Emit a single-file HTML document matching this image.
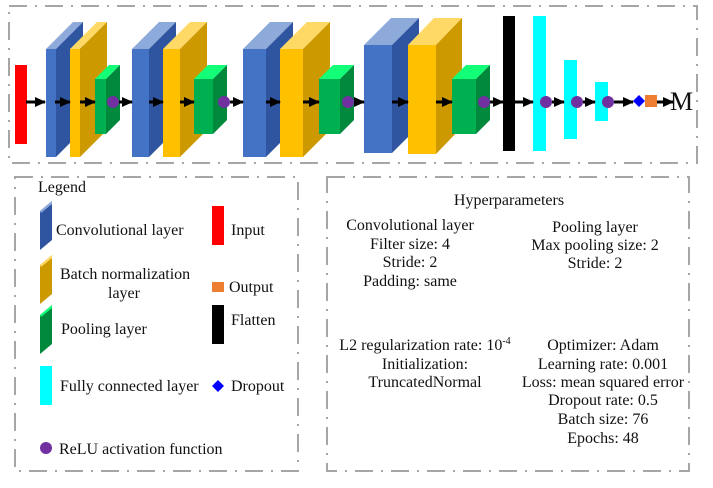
<!DOCTYPE html>
<html><head><meta charset="utf-8"><style>
html,body{margin:0;padding:0;background:#fff;}
svg{display:block;}
text{font-family:"Liberation Serif",serif;font-size:16px;fill:#111;}
</style></head><body>
<svg width="713" height="488" viewBox="0 0 713 488" xmlns="http://www.w3.org/2000/svg">
<defs>
<marker id="ah" markerWidth="11" markerHeight="10" refX="10" refY="5" orient="auto" markerUnits="userSpaceOnUse">
<path d="M0,0 L11,5 L0,10 z" fill="#000"/></marker>
</defs>
<g fill="none" stroke="#a6a6a6" stroke-width="2" stroke-dasharray="18,8,2,8">
<rect x="9" y="6" width="688" height="157"/>
<rect x="15" y="177" width="283" height="294"/>
<rect x="327" y="177" width="362" height="294"/>
</g>
<rect x="15" y="65" width="12" height="79" fill="#ff0000"/>
<g>
<polygon points="46,49 56,49 83,22 73,22" fill="#8eaadb"/><polygon points="56,49 83,22 83,130 56,157" fill="#2f55a0"/><rect x="46" y="49" width="10" height="108" fill="#4472c4"/>
<polygon points="70,49 80,49 107,22 97,22" fill="#ffd966"/><polygon points="80,49 107,22 107,130 80,157" fill="#cc9a00"/><rect x="70" y="49" width="10" height="108" fill="#ffc000"/>
<polygon points="95,79 106,79 120,65 109,65" fill="#14ff78"/><polygon points="106,79 120,65 120,120 106,134" fill="#00883d"/><rect x="95" y="79" width="11" height="55" fill="#00b050"/>
<polygon points="132,49 149,49 176,22 159,22" fill="#8eaadb"/><polygon points="149,49 176,22 176,130 149,157" fill="#2f55a0"/><rect x="132" y="49" width="17" height="108" fill="#4472c4"/>
<polygon points="163,49 180,49 207,22 190,22" fill="#ffd966"/><polygon points="180,49 207,22 207,130 180,157" fill="#cc9a00"/><rect x="163" y="49" width="17" height="108" fill="#ffc000"/>
<polygon points="194,79 213,79 227,65 208,65" fill="#14ff78"/><polygon points="213,79 227,65 227,120 213,134" fill="#00883d"/><rect x="194" y="79" width="19" height="55" fill="#00b050"/>
<polygon points="243,49 266,49 293,22 270,22" fill="#8eaadb"/><polygon points="266,49 293,22 293,130 266,157" fill="#2f55a0"/><rect x="243" y="49" width="23" height="108" fill="#4472c4"/>
<polygon points="280,49 303,49 330,22 307,22" fill="#ffd966"/><polygon points="303,49 330,22 330,130 303,157" fill="#cc9a00"/><rect x="280" y="49" width="23" height="108" fill="#ffc000"/>
<polygon points="319,79 340,79 354,65 333,65" fill="#14ff78"/><polygon points="340,79 354,65 354,120 340,134" fill="#00883d"/><rect x="319" y="79" width="21" height="55" fill="#00b050"/>
<polygon points="364,45 392,45 419,18 391,18" fill="#8eaadb"/><polygon points="392,45 419,18 419,126 392,153" fill="#2f55a0"/><rect x="364" y="45" width="28" height="108" fill="#4472c4"/>
<polygon points="408,45 436,45 462,18 434,18" fill="#ffd966"/><polygon points="436,45 462,18 462,127 436,154" fill="#cc9a00"/><rect x="408" y="45" width="28" height="109" fill="#ffc000"/>
<polygon points="452,79 476,79 490,65 466,65" fill="#14ff78"/><polygon points="476,79 490,65 490,120 476,134" fill="#00883d"/><rect x="452" y="79" width="24" height="55" fill="#00b050"/>
</g>
<rect x="503" y="16" width="12" height="135" fill="#000"/>
<rect x="533" y="16" width="13" height="135" fill="#00ffff"/>
<rect x="564" y="60" width="13" height="79" fill="#00ffff"/>
<rect x="595" y="82" width="13" height="39" fill="#00ffff"/>
<g stroke="#000" stroke-width="3" marker-end="url(#ah)">
<line x1="26" y1="102" x2="45" y2="102"/><line x1="55" y1="102" x2="70" y2="102"/><line x1="80" y1="102" x2="95" y2="102"/>
<line x1="119" y1="102" x2="132" y2="102"/><line x1="149" y1="102" x2="163" y2="102"/><line x1="180" y1="102" x2="194" y2="102"/>
<line x1="230" y1="102" x2="243" y2="102"/><line x1="266" y1="102" x2="280" y2="102"/><line x1="303" y1="102" x2="319" y2="102"/>
<line x1="354" y1="102" x2="364" y2="102"/><line x1="392" y1="102" x2="408" y2="102"/><line x1="436" y1="102" x2="452" y2="102"/>
<line x1="490" y1="102" x2="503" y2="102"/><line x1="515" y1="102" x2="533" y2="102"/><line x1="552" y1="102" x2="564" y2="102"/>
<line x1="583" y1="102" x2="595" y2="102"/><line x1="614" y1="102" x2="633" y2="102"/><line x1="657" y1="102" x2="673" y2="102"/>
</g>
<g fill="#7030a0">
<circle cx="113" cy="102" r="6"/><circle cx="224" cy="102" r="6"/><circle cx="348" cy="102" r="6"/><circle cx="484" cy="102" r="6"/>
<circle cx="546" cy="102" r="6"/><circle cx="577" cy="102" r="6"/><circle cx="608" cy="102" r="6"/>
</g>
<polygon points="639,95 645,101 639,107 633,101" fill="#0000ff"/>
<rect x="645" y="95" width="12" height="12" fill="#ed7d31"/>
<text x="670" y="110" style="font-size:26px">M</text>

<text x="38" y="192">Legend</text>
<polygon points="40,211 52,201 52,240 40,250" fill="#2f55a0"/><polygon points="40,211 52,201 52,204 41,213" fill="#8eaadb"/>
<text x="56" y="235">Convolutional layer</text>
<polygon points="40,265 52,255 52,294 40,304" fill="#cc9a00"/><polygon points="40,265 52,255 52,258 41,267" fill="#ffd966"/>
<text x="60" y="279">Batch normalization</text>
<text x="108" y="298">layer</text>
<polygon points="40,315 52,305 52,344 40,354" fill="#00883d"/><polygon points="40,315 52,305 52,308 41,317" fill="#14ff78"/>
<text x="61" y="334">Pooling layer</text>
<rect x="40" y="366" width="12" height="39" fill="#00ffff"/>
<text x="60" y="391">Fully connected layer</text>
<circle cx="46" cy="448" r="6" fill="#7030a0"/>
<text x="59" y="454">ReLU activation function</text>
<rect x="212" y="206" width="12" height="39" fill="#ff0000"/>
<text x="231" y="235">Input</text>
<rect x="212" y="282" width="12" height="10" fill="#ed7d31"/>
<text x="229" y="292">Output</text>
<rect x="212" y="305" width="12" height="39" fill="#000"/>
<text x="231" y="325">Flatten</text>
<polygon points="218,380 224,386 218,392 212,386" fill="#0000ff"/>
<text x="231" y="391">Dropout</text>

<g text-anchor="middle">
<text x="509" y="205">Hyperparameters</text>
<text x="410" y="230">Convolutional layer</text>
<text x="410" y="249">Filter size: 4</text>
<text x="410" y="267">Stride: 2</text>
<text x="410" y="286">Padding: same</text>
<text x="595" y="232">Pooling layer</text>
<text x="595" y="250">Max pooling size: 2</text>
<text x="595" y="268">Stride: 2</text>
<text x="425" y="350">L2 regularization rate: 10<tspan dy="-6" style="font-size:10px">-4</tspan></text>
<text x="425" y="369">Initialization:</text>
<text x="425" y="387">TruncatedNormal</text>
<text x="603" y="350">Optimizer: Adam</text>
<text x="603" y="369">Learning rate: 0.001</text>
<text x="603" y="387">Loss: mean squared error</text>
<text x="603" y="405">Dropout rate: 0.5</text>
<text x="603" y="424">Batch size: 76</text>
<text x="603" y="443">Epochs: 48</text>
</g>
</svg>
</body></html>
